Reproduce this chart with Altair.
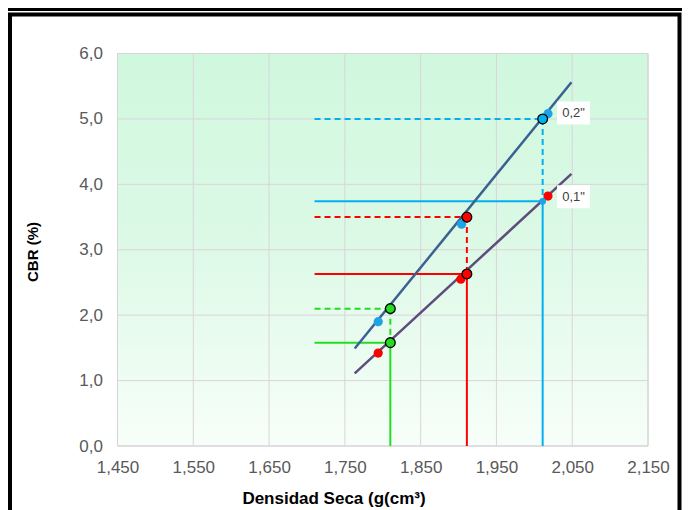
import altair as alt
import pandas as pd

# ---------------- data ----------------
x_ticks = [1.45, 1.55, 1.65, 1.75, 1.85, 1.95, 2.05, 2.15]
y_ticks = [0, 1, 2, 3, 4, 5, 6]

trend_x = [1.763, 2.049]
trend_02_y = [1.49, 5.56]
trend_01_y = [1.11, 4.16]

pts02_x = [1.794, 1.904, 2.018]
pts02_y = [1.90, 3.39, 5.08]
pts01_x = [1.794, 1.903, 2.018]
pts01_y = [1.42, 2.55, 3.82]

dens = [1.810, 1.911, 2.011]
cbr01 = [1.58, 2.63, 3.74]
cbr02 = [2.10, 3.50, 5.00]
guide_colors = ["#22dd22", "#ff0000", "#00b0f0"]
guide_start = 1.71

labels = ['0,2"', '0,1"']
label_x = [2.0517, 2.0517]
label_y = [5.09, 3.81]

# ---------------- layout ----------------
W, H = 530.5, 392.5
PAD = {"left": 109.5, "top": 45.5, "right": 34, "bottom": 64}
FONT = "Liberation Sans"
GRID = "#dad4da"

XAX = alt.Axis(
    values=x_ticks,
    labelExpr="replace(format(datum.value, '.3f'), '.', ',')",
    title="Densidad Seca (g(cm³)",
    grid=False, domain=False, ticks=False,
    labelFlush=False, labelOverlap=False, labelBound=False,
    labelFont=FONT, labelFontSize=17, labelColor="#595959", labelPadding=13,
    titleFont=FONT, titleFontSize=17, titleFontWeight="bold", titleColor="#000000",
    titleX=216, titleY=52.5, titleAlign="center", titleBaseline="middle", titleAngle=0,
)
YAX = alt.Axis(
    values=y_ticks,
    labelExpr="replace(format(datum.value, '.1f'), '.', ',')",
    title="CBR (%)",
    grid=False, domain=False, ticks=False,
    labelFlush=False, labelOverlap=False, labelBound=False,
    labelFont=FONT, labelFontSize=17, labelColor="#595959", labelPadding=15,
    titleFont=FONT, titleFontSize=15, titleFontWeight="bold", titleColor="#000000",
    titleX=-85, titleY=198, titleAlign="center", titleBaseline="middle", titleAngle=270,
)
XS = alt.Scale(domain=[1.45, 2.15], nice=False, zero=False)
YS = alt.Scale(domain=[0, 6], nice=False, zero=False)


def X(f="x"):
    return alt.X(f"{f}:Q", scale=XS, axis=XAX)


def Y(f="y"):
    return alt.Y(f"{f}:Q", scale=YS, axis=YAX)


# ---------------- tables ----------------
bg = pd.DataFrame({"x": [x_ticks[0]], "x2": [x_ticks[-1]], "y": [y_ticks[0]], "y2": [y_ticks[-1]]})
gx = pd.DataFrame({"x": x_ticks})
gy = pd.DataFrame({"y": y_ticks})

trend = pd.DataFrame({
    "x": trend_x * 2,
    "y": trend_02_y + trend_01_y,
    "s": ["0.2"] * 2 + ["0.1"] * 2,
})

plain = pd.DataFrame({
    "x": pts02_x + pts01_x,
    "y": pts02_y + pts01_y,
    "c": ["#1ea4e6"] * 3 + ["#ff0000"] * 3,
})

solid_rows, dashed_rows = [], []
for d, a, b, c in zip(dens, cbr01, cbr02, guide_colors):
    solid_rows.append({"x": guide_start, "x2": d, "y": a, "y2": a, "c": c})
    solid_rows.append({"x": d, "x2": d, "y": a, "y2": 0, "c": c})
    dashed_rows.append({"x": guide_start, "x2": d, "y": b, "y2": b, "c": c})
    dashed_rows.append({"x": d, "x2": d, "y": b, "y2": a, "c": c})
solid = pd.DataFrame(solid_rows)
dashed = pd.DataFrame(dashed_rows)

outlined = pd.DataFrame({
    "x": dens[:2] * 2 + [dens[2]],
    "y": cbr02[:2] + cbr01[:2] + [cbr02[2]],
    "c": guide_colors[:2] * 2 + [guide_colors[2]],
})
small_blue = pd.DataFrame({"x": [dens[2]], "y": [cbr01[2]]})

lab = pd.DataFrame({"x": label_x, "y": label_y, "t": labels})

# ---------------- layers ----------------
gradient = alt.LinearGradient(
    gradient="linear",
    stops=[alt.GradientStop(color="#d0f8de", offset=0),
           alt.GradientStop(color="#dbf9e5", offset=0.45),
           alt.GradientStop(color="#f7fef9", offset=1)],
    x1=0, x2=0, y1=0, y2=1)
bg_layer = alt.Chart(bg).mark_rect(fill=gradient, stroke="#d0d0d0", strokeWidth=1).encode(
    x=X(), x2="x2:Q", y=Y(), y2="y2:Q")
gx_layer = alt.Chart(gx).mark_rule(color=GRID, strokeWidth=1).encode(x=X())
gy_layer = alt.Chart(gy).mark_rule(color=GRID, strokeWidth=1).encode(y=Y())

solid_layer = alt.Chart(solid).mark_rule(strokeWidth=2).encode(
    x=X(), x2="x2:Q", y=Y(), y2="y2:Q", color=alt.Color("c:N", scale=None))
dashed_layer = alt.Chart(dashed).mark_rule(strokeWidth=2, strokeDash=[6, 4]).encode(
    x=X(), x2="x2:Q", y=Y(), y2="y2:Q", color=alt.Color("c:N", scale=None))

plain_layer = alt.Chart(plain).mark_circle(size=85, opacity=1).encode(
    x=X(), y=Y(), color=alt.Color("c:N", scale=None))

trend_layer = alt.Chart(trend).mark_line(strokeWidth=2.5).encode(
    x=X(), y=Y(), detail="s:N",
    color=alt.Color("s:N", scale=alt.Scale(domain=["0.2", "0.1"], range=["#3b6192", "#5e4c7c"]), legend=None))

small_layer = alt.Chart(small_blue).mark_circle(size=45, opacity=1, color="#1ea4e6").encode(x=X(), y=Y())

outlined_layer = alt.Chart(outlined).mark_point(
    filled=True, size=95, opacity=1, stroke="#000000", strokeWidth=1.3, shape="circle").encode(
    x=X(), y=Y(), fill=alt.Fill("c:N", scale=None))

box_layer = alt.Chart(lab).mark_point(
    shape="M-1,-0.697L1,-0.697L1,0.697L-1,0.697Z", size=1089, filled=True, fill="#ffffff", opacity=1,
    strokeWidth=0).encode(x=X(), y=Y())
text_layer = alt.Chart(lab).mark_text(
    font=FONT, fontSize=13, color="#404040", align="center", baseline="middle").encode(
    x=X(), y=Y(), text="t:N")

# decorative frame (pixels relative to plot origin)
one = alt.Data(values=[{}])
top_bar = alt.Chart(one).mark_rule(color="#000000", strokeWidth=3).encode(
    x=alt.value(-110), x2=alt.value(570), y=alt.value(-44))
frame = alt.Chart(one).mark_rect(filled=False, stroke="#000000", strokeWidth=4).encode(
    x=alt.value(-107.5), x2=alt.value(562), y=alt.value(-39), y2=alt.value(480))

chart = alt.layer(
    bg_layer, gx_layer, gy_layer,
    solid_layer, dashed_layer, trend_layer, plain_layer, small_layer, outlined_layer,
    box_layer, text_layer, top_bar, frame,
).properties(
    width=W, height=H,
    autosize=alt.AutoSizeParams(type="none"),
    padding=PAD,
    background="#ffffff",
).configure_view(stroke=None)

chart.save("out.html", embed_options={"renderer": "svg", "actions": False})
